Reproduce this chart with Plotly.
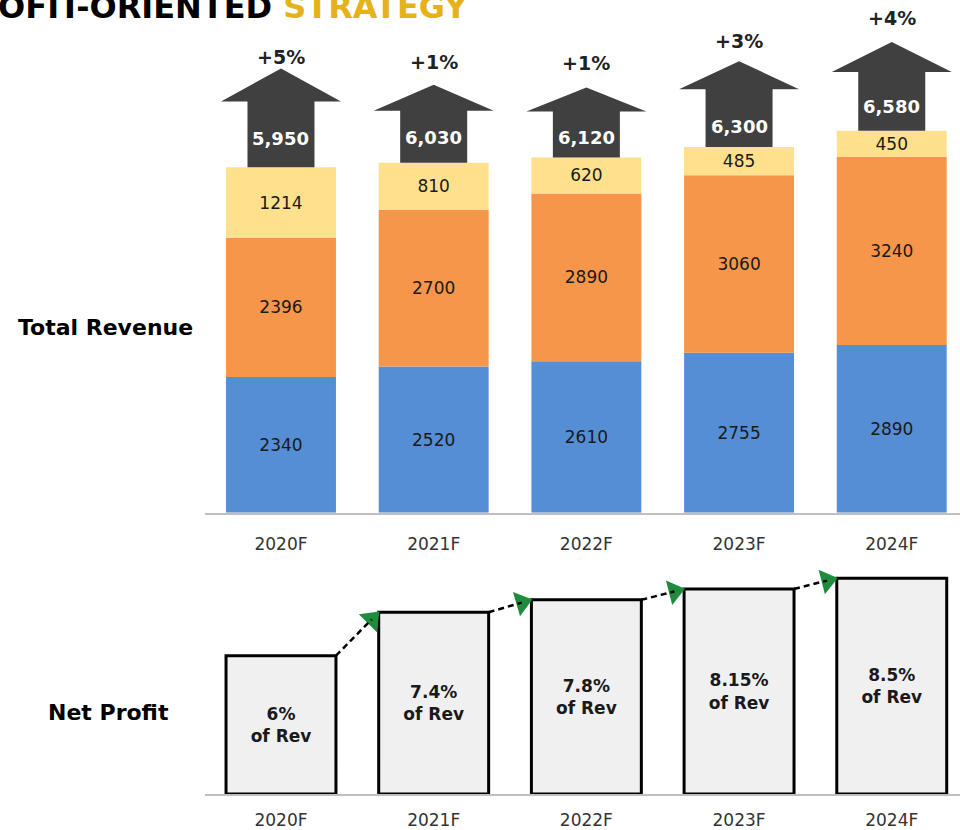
import math
import plotly.graph_objects as go

# ---------------- data ----------------
YEARS = ["2020F", "2021F", "2022F", "2023F", "2024F"]
REV_BASE = [2340, 2520, 2610, 2755, 2890]      # blue segment
REV_MID = [2396, 2700, 2890, 3060, 3240]       # orange segment
REV_TOP = [1214, 810, 620, 485, 450]           # yellow segment
GROWTH = ["+5%", "+1%", "+1%", "+3%", "+4%"]
NET_PROFIT_PCT = [6, 7.4, 7.8, 8.15, 8.5]

# ---------------- style ----------------
W, H = 960, 830
BLUE, ORANGE, YELLOW = "#568ED5", "#F5964A", "#FFE08C"
ARROW_COLOR = "#404040"
BOX_FILL = "#F0F0F0"
GREEN = "#1E8C3C"
GOLD = "#E5B21A"
FONT = "DejaVu Sans"
TEXT = "#1a1a1a"

ARROW_LEN_PX = [99, 78, 70, 86, 89]     # decorative arrow lengths (px)
ARROW_HEAD_PX = [33, 26, 24, 28, 30]
TOTAL_GAP_PX = [29, 25, 20, 21, 24]     # total label offset above bar top
GROWTH_GAP_PX = [12, 23, 25, 20, 24]    # growth label offset above arrow tip
SHAFT_HALF_PX = 33.5
HEAD_HALF_PX = 60
BAR_W = 0.72

X_DOMAIN = [205 / W, 1.0]
X_RANGE = [-0.4977, 4.447]
Y1_DOMAIN = [(H - 514) / H, 1.0]
Y1_RANGE = [0, 8832]
Y2_DOMAIN = [(H - 796) / H, (H - 560) / H]
Y2_RANGE = [1.535, 1.535 + 236 / 31.08]

px_x = (X_DOMAIN[1] - X_DOMAIN[0]) * W / (X_RANGE[1] - X_RANGE[0])
px_y1 = (Y1_DOMAIN[1] - Y1_DOMAIN[0]) * H / (Y1_RANGE[1] - Y1_RANGE[0])
px_y2 = (Y2_DOMAIN[1] - Y2_DOMAIN[0]) * H / (Y2_RANGE[1] - Y2_RANGE[0])

xs = list(range(len(YEARS)))
totals = [a + b + c for a, b, c in zip(REV_BASE, REV_MID, REV_TOP)]
mid_base = REV_BASE
top_base = [a + b for a, b in zip(REV_BASE, REV_MID)]

fig = go.Figure()

seg_font = dict(family=FONT, size=17, color=TEXT)
for vals, base, col in [(REV_BASE, [0] * 5, BLUE), (REV_MID, mid_base, ORANGE), (REV_TOP, top_base, YELLOW)]:
    fig.add_trace(go.Bar(
        x=xs, y=vals, base=base, width=BAR_W, marker=dict(color=col, line=dict(width=0)),
        text=[str(v) for v in vals], textposition="inside", insidetextanchor="middle",
        textfont=seg_font, textangle=0, hoverinfo="skip", xaxis="x", yaxis="y",
        showlegend=False,
    ))

# net profit boxes
b2 = Y2_RANGE[0]
fig.add_trace(go.Bar(
    x=xs, y=[p - b2 for p in NET_PROFIT_PCT], base=b2, width=BAR_W,
    marker=dict(color=BOX_FILL, line=dict(color="black", width=3)),
    text=[f"<b>{p:g}%<br>of Rev</b>" for p in NET_PROFIT_PCT],
    textposition="inside", insidetextanchor="middle", textangle=0,
    textfont=dict(family=FONT, size=17, color=TEXT),
    hoverinfo="skip", xaxis="x2", yaxis="y2", showlegend=False,
))

shapes = []
annotations = []

# up arrows on top of revenue bars
for i, t in enumerate(totals):
    sw = SHAFT_HALF_PX / px_x
    hw = HEAD_HALF_PX / px_x
    tip = t + ARROW_LEN_PX[i] / px_y1
    hb = tip - ARROW_HEAD_PX[i] / px_y1
    path = (f"M {i - sw},{t} L {i - sw},{hb} L {i - hw},{hb} L {i},{tip} "
            f"L {i + hw},{hb} L {i + sw},{hb} L {i + sw},{t} Z")
    shapes.append(dict(type="path", path=path, xref="x", yref="y",
                       fillcolor=ARROW_COLOR, line=dict(width=0), layer="above"))
    annotations.append(dict(x=i, y=t, xref="x", yref="y", text=f"<b>{t:,}</b>",
                            showarrow=False, yshift=TOTAL_GAP_PX[i], yanchor="middle",
                            xanchor="center",
                            font=dict(family=FONT, size=18, color="white")))
    annotations.append(dict(x=i, y=tip, xref="x", yref="y", text=f"<b>{GROWTH[i]}</b>",
                            showarrow=False, yshift=GROWTH_GAP_PX[i], yanchor="middle",
                            xanchor="center",
                            font=dict(family=FONT, size=19, color="#222222")))

# dashed connectors with green heads
tri_x, tri_y, tri_ang = [], [], []
for i in range(len(xs) - 1):
    x0, y0 = i + BAR_W / 2, NET_PROFIT_PCT[i]
    x1, y1 = i + 1 - BAR_W / 2, NET_PROFIT_PCT[i + 1]
    dxp = (x1 - x0) * px_x
    dyp = (y1 - y0) * px_y2
    ang = math.atan2(dyp, dxp)
    back = 10
    cx = x1 - back * math.cos(ang) / px_x
    cy = y1 - back * math.sin(ang) / px_y2
    shapes.append(dict(type="line", xref="x2", yref="y2", x0=x0, y0=y0, x1=cx, y1=cy,
                       line=dict(color="black", width=2.5, dash="6px,4px"), layer="above"))
    tri_x.append(cx)
    tri_y.append(cy)
    tri_ang.append(-math.degrees(ang))

fig.add_trace(go.Scatter(
    x=tri_x, y=tri_y, mode="markers", xaxis="x2", yaxis="y2", cliponaxis=False,
    marker=dict(symbol="triangle-right", size=22, color=GREEN, angle=tri_ang, line=dict(width=0)),
    hoverinfo="skip", showlegend=False,
))

# side labels and title
annotations.append(dict(x=105 / W, y=(H - 328) / H, xref="paper", yref="paper",
                        xanchor="center", yanchor="middle",
                        text="<b>Total Revenue</b>", showarrow=False,
                        font=dict(family=FONT, size=22, color="black")))
annotations.append(dict(x=108 / W, y=(H - 714) / H, xref="paper", yref="paper",
                        xanchor="center", yanchor="middle",
                        text="<b>Net Profit</b>", showarrow=False,
                        font=dict(family=FONT, size=22, color="black")))
annotations.append(dict(x=470 / W, y=(H - 7) / H, xref="paper", yref="paper",
                        xanchor="right", yanchor="middle", showarrow=False,
                        text=f"<b>PROFIT-ORIENTED <span style='color:{GOLD}'>STRATEGY</span></b>",
                        font=dict(family=FONT, size=32, color="black")))

tick_font = dict(family=FONT, size=17, color="#333333")
fig.update_layout(
    width=W, height=H, margin=dict(l=0, r=0, t=0, b=0),
    paper_bgcolor="white", plot_bgcolor="white", barmode="overlay",
    xaxis=dict(domain=X_DOMAIN, range=X_RANGE, tickvals=xs, ticktext=YEARS,
               showgrid=False, zeroline=False, showline=True, linecolor="#BFBFBF",
               linewidth=1.5, ticks="", tickfont=tick_font, ticklabelstandoff=15,
               anchor="y", fixedrange=True),
    yaxis=dict(domain=Y1_DOMAIN, range=Y1_RANGE, visible=False, anchor="x"),
    xaxis2=dict(domain=X_DOMAIN, range=X_RANGE, tickvals=xs, ticktext=YEARS,
                showgrid=False, zeroline=False, showline=True, linecolor="#BFBFBF",
                linewidth=1.5, ticks="", tickfont=tick_font, ticklabelstandoff=10,
                anchor="y2"),
    yaxis2=dict(domain=Y2_DOMAIN, range=Y2_RANGE, visible=False, anchor="x2"),
    shapes=shapes, annotations=annotations,
)

fig.write_html("out.html", config={"displayModeBar": False},
               post_script="document.body.style.margin='0';document.body.style.overflow='hidden';")
